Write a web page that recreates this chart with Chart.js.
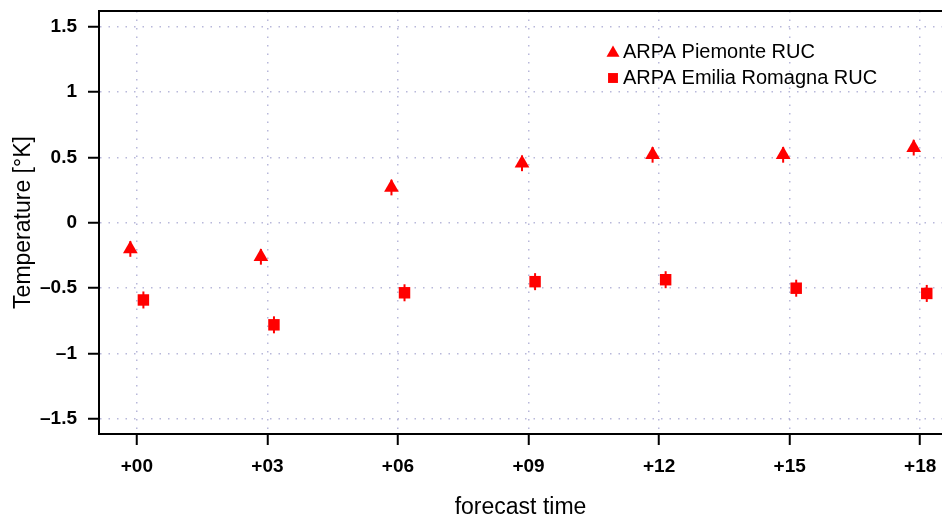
<!DOCTYPE html>
<html>
<head>
<meta charset="utf-8">
<script src="https://cdn.jsdelivr.net/npm/chart.js"></script>
<style>
  html,body{margin:0;padding:0;background:#fff}
  #wrap{width:942px;height:521px}
</style>
</head>
<body>
<div id="wrap"><canvas id="grafik" width="942" height="521"></canvas></div>
<script>
// forecast hours on the x axis
const hours = [0, 3, 6, 9, 12, 15, 18];
// temperature bias per station network
const piemonte = [-0.20, -0.26, 0.27, 0.455, 0.52, 0.52, 0.575];
const emilia = [-0.59, -0.78, -0.535, -0.45, -0.435, -0.50, -0.54];
// half-length of the error bars
const piemonteErr = [0.06, 0.06, 0.06, 0.06, 0.06, 0.06, 0.06];
const emiliaErr = [0.065, 0.065, 0.065, 0.065, 0.065, 0.065, 0.065];
const yTicks = [-1.5, -1, -0.5, 0, 0.5, 1, 1.5];
const seriesNames = ["ARPA Piemonte RUC", "ARPA Emilia Romagna RUC"];

const DODGE = 0.15;
const FONT = '"Liberation Sans", Arial, Helvetica, sans-serif';
const GRID = "rgba(160,160,205,0.75)";

Chart.defaults.font.family = FONT;
Chart.defaults.color = "#000";

// ================= ERROR BARS =================
const errorBars = {
  id: "errorBars",
  beforeDatasetsDraw(chart) {
    const {ctx, scales: {x, y}} = chart;
    ctx.save();
    ctx.strokeStyle = "#ff0000";
    ctx.lineWidth = 2;
    chart.data.datasets.forEach(ds => {
      ds.data.forEach((p, i) => {
        const px = x.getPixelForValue(p.x);
        ctx.beginPath();
        ctx.moveTo(px, y.getPixelForValue(p.y - ds.err[i]));
        ctx.lineTo(px, y.getPixelForValue(p.y + ds.err[i]));
        ctx.stroke();
      });
    });
    ctx.restore();
  }
};

// ================= TOP FRAME LINE =================
const topFrame = {
  id: "topFrame",
  afterDraw(chart) {
    const {ctx, chartArea: a} = chart;
    ctx.save();
    ctx.strokeStyle = "#000";
    ctx.lineWidth = 2;
    ctx.beginPath();
    ctx.moveTo(a.left - 1, a.top);
    ctx.lineTo(a.right, a.top);
    ctx.stroke();
    ctx.restore();
  }
};

// ================= LEGEND INSIDE =================
const insideLegend = {
  id: "insideLegend",
  afterDraw(chart) {
    const {ctx} = chart;
    ctx.save();
    ctx.font = "20px " + FONT;
    ctx.textBaseline = "alphabetic";
    chart.data.datasets.forEach((ds, i) => {
      ctx.fillStyle = "#ff0000";
      const my = i === 0 ? 53 : 78;
      Chart.helpers.drawPoint(ctx, {pointStyle: ds.pointStyle, radius: i === 0 ? 7.5 : 7, rotation: 0, borderWidth: 0}, 613, my);
      ctx.fillStyle = "#000";
      ctx.fillText(ds.label, 623, i === 0 ? 58.3 : 84);
    });
    ctx.restore();
  }
};

new Chart(document.getElementById("grafik"), {
  type: "scatter",
  data: {
    datasets: [
      {
        label: seriesNames[0],
        data: hours.map((h, i) => ({x: h - DODGE, y: piemonte[i]})),
        err: piemonteErr,
        pointStyle: "triangle",
        pointRadius: 8.5,
        backgroundColor: "#ff0000",
        borderColor: "#ff0000",
        borderWidth: 0
      },
      {
        label: seriesNames[1],
        data: hours.map((h, i) => ({x: h + DODGE, y: emilia[i]})),
        err: emiliaErr,
        pointStyle: "rect",
        pointRadius: 8.1,
        backgroundColor: "#ff0000",
        borderColor: "#ff0000",
        borderWidth: 0
      }
    ]
  },
  options: {
    responsive: false,
    animation: false,
    devicePixelRatio: 1,
    layout: {autoPadding: false, padding: {top: 11, right: 0, bottom: 0, left: 0}},
    plugins: {legend: {display: false}, tooltip: {enabled: false}},
    scales: {
      x: {
        type: "linear",
        min: -0.87,
        max: 18.5,
        afterBuildTicks: s => { s.ticks = hours.map(v => ({value: v})); },
        afterFit: s => { s.height = 87; s.paddingLeft = 0; s.paddingRight = 0; },
        ticks: {
          autoSkip: false,
          maxRotation: 0,
          padding: 10,
          font: {size: 19, weight: "bold"},
          callback: v => "+" + String(v).padStart(2, "0")
        },
        grid: {color: GRID, lineWidth: 1.5, tickColor: "#000", tickLength: 11, tickWidth: 2},
        border: {color: "#000", width: 2, dash: [1.5, 7]},
        title: {display: true, text: "forecast time", font: {size: 23}, padding: {top: 0, bottom: 0}}
      },
      y: {
        type: "linear",
        min: -1.615,
        max: 1.62,
        afterBuildTicks: s => { s.ticks = yTicks.map(v => ({value: v})); },
        afterFit: s => { s.width = 99; s.paddingTop = 0; s.paddingBottom = 0; },
        ticks: {
          padding: 11,
          font: {size: 19, weight: "bold"},
          callback: v => v < 0 ? "\u2013" + Math.abs(v) : String(v)
        },
        grid: {color: GRID, lineWidth: 1.5, tickColor: "#000", tickLength: 11, tickWidth: 2},
        border: {color: "#000", width: 2, dash: [1.5, 7]},
        title: {display: true, text: "Temperature [\u00b0K]", font: {size: 23}, padding: {top: 10, bottom: 0}}
      }
    }
  },
  plugins: [errorBars, topFrame, insideLegend]
});
</script>
</body>
</html>
